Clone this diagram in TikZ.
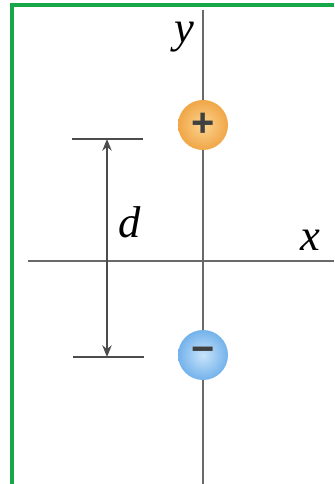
\documentclass[tikz,border=0pt]{standalone}
\usepackage{fontspec}
\setmainfont{Liberation Serif}
\setsansfont{Liberation Sans}
\usetikzlibrary{arrows.meta}
\definecolor{frameGreen}{RGB}{22,168,72}
\definecolor{axisGray}{RGB}{105,105,105}
\definecolor{plusOrange}{RGB}{240,166,70}
\definecolor{plusLight}{RGB}{252,212,145}
\definecolor{minusBlue}{RGB}{115,178,235}
\definecolor{minusLight}{RGB}{200,228,250}

\begin{document}
\begin{tikzpicture}[
  x=0.03cm, y=-0.03cm,
  axis/.style={draw=axisGray, line width=2pt},
  charge/.style={
    circle, minimum size=1.5cm, inner sep=0pt, shading=radial,
    font=\fontsize{34}{34}\selectfont\sffamily\bfseries, text=black!75
  },
  dimline/.style={draw=black!70, line width=1.5pt},
  lbl/.style={font=\fontsize{38}{38}\selectfont\itshape},
  >={Stealth[length=10pt, width=8pt]}
]
\useasboundingbox (0,0) rectangle (334,484);

% frame
\draw[frameGreen, line width=3.6pt] (12,484) -- (12,5) -- (334,5);

% axes
\coordinate (ytop) at (203,10);
\coordinate (ybot) at (203,484);
\coordinate (xleft) at (28,261);
\coordinate (xright) at (334,261);
\draw[axis] (ytop) -- (ybot);
\draw[axis] (xleft) -- (xright);
\node[lbl] (ylabel) at (184,37) {y};
\node[lbl] (xlabel) at (310,240) {x};

% charges
\node[charge, inner color=plusLight, outer color=plusOrange] (plus) at (203,125) {+};
\node[charge, inner color=minusLight, outer color=minusBlue] (minus) at (203,355) {−};

% separation d
\coordinate (tl) at (72,139);
\coordinate (tr) at (143,139);
\coordinate (bl) at (73,357);
\coordinate (br) at (144,357);
\coordinate (atop) at (107,139);
\coordinate (abot) at (107,357);
\draw[dimline] (tl) -- (tr);
\draw[dimline] (bl) -- (br);
\draw[dimline, <->] (atop) -- (abot);
\node[lbl] (dlabel) at (130,222) {d};

\end{tikzpicture}
\end{document}
